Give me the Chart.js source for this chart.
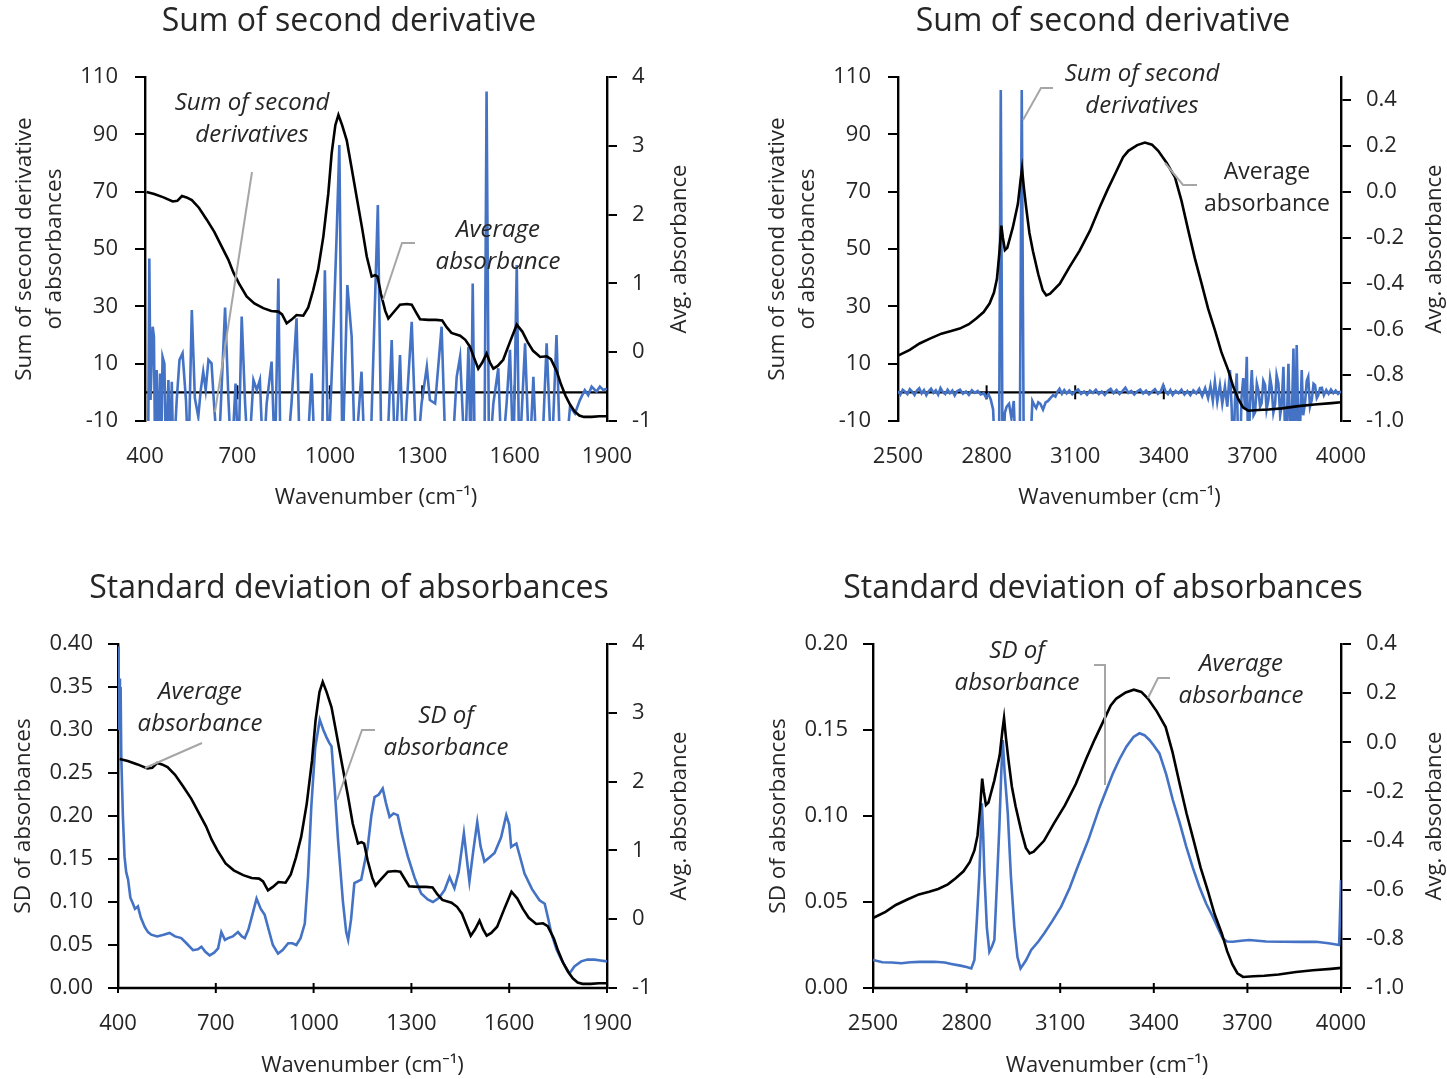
<!DOCTYPE html>
<html lang="en">
<head>
<meta charset="UTF-8" />
<title>Sum of second derivative / SD of absorbances</title>
<script src="https://cdn.jsdelivr.net/npm/chart.js"></script>
<style>
  body { margin: 0; background: #fff; }
  #wrap { position: relative; width: 1447px; height: 1079px; }
  canvas { position: absolute; }
</style>
</head>
<body>
<div id="wrap">
  <canvas id="c1" width="723" height="540" style="left:0;top:0"></canvas>
  <canvas id="c2" width="724" height="540" style="left:723px;top:0"></canvas>
  <canvas id="c3" width="723" height="539" style="left:0;top:540px"></canvas>
  <canvas id="c4" width="724" height="539" style="left:723px;top:540px"></canvas>
</div>
<script>
// ---- data: [wavenumber, value] pairs ----

const fingerprintTicks = [400, 700, 1000, 1300, 1600, 1900]
const stretchTicks = [2500, 2800, 3100, 3400, 3700, 4000]

// average absorbance, 400-1900 cm-1 (right axis)
const avgFingerprint = [
  [405, 2.33], [430, 2.30], [460, 2.25], [490, 2.19], [505, 2.20], [520, 2.27], [535, 2.25], [552, 2.21],
  [575, 2.10], [600, 1.93], [625, 1.75], [654, 1.49], [670, 1.35], [687, 1.16], [705, 1.00], [730, 0.81],
  [755, 0.71], [784, 0.64], [810, 0.60], [833, 0.59], [845, 0.55], [860, 0.42], [875, 0.47], [892, 0.54],
  [914, 0.53], [930, 0.65], [946, 0.90], [962, 1.20], [979, 1.68], [995, 2.30], [1006, 2.89], [1018, 3.30],
  [1028, 3.45], [1040, 3.30], [1055, 3.08], [1070, 2.70], [1087, 2.26], [1105, 1.80], [1120, 1.39],
  [1136, 1.10], [1147, 1.12], [1155, 1.10], [1166, 0.85], [1180, 0.60], [1190, 0.49], [1205, 0.57],
  [1228, 0.69], [1250, 0.70], [1266, 0.69], [1280, 0.58], [1293, 0.48], [1320, 0.47], [1345, 0.47],
  [1365, 0.46], [1380, 0.36], [1395, 0.28], [1423, 0.24], [1440, 0.18], [1455, 0.08], [1470, -0.10],
  [1482, -0.24], [1495, -0.15], [1509, -0.02], [1520, -0.15], [1531, -0.24], [1545, -0.20], [1563, -0.11],
  [1585, 0.15], [1607, 0.40], [1625, 0.30], [1642, 0.15], [1660, 0.02], [1683, -0.07], [1704, -0.06],
  [1718, -0.10], [1737, -0.28], [1750, -0.46], [1765, -0.63], [1780, -0.76], [1795, -0.86], [1810, -0.92],
  [1825, -0.94], [1850, -0.94], [1875, -0.93], [1900, -0.93]
]

// average absorbance, 2500-4000 cm-1 (right axis)
const avgStretch = [
  [2500, -0.715], [2540, -0.690], [2573, -0.662], [2610, -0.640], [2647, -0.619], [2680, -0.608],
  [2709, -0.597], [2740, -0.578], [2765, -0.553], [2790, -0.525], [2810, -0.488], [2825, -0.44],
  [2835, -0.38], [2843, -0.27], [2850, -0.148], [2855, -0.20], [2862, -0.255], [2870, -0.245],
  [2889, -0.155], [2906, -0.053], [2915, 0.05], [2920, 0.099], [2926, 0.02], [2934, -0.07], [2945, -0.18],
  [2957, -0.26], [2975, -0.36], [2990, -0.43], [3002, -0.452], [3015, -0.445], [3048, -0.401],
  [3080, -0.33], [3115, -0.257], [3150, -0.17], [3183, -0.068], [3210, 0.01], [3235, 0.077], [3262, 0.15],
  [3280, 0.178], [3310, 0.203], [3336, 0.214], [3360, 0.205], [3381, 0.178], [3410, 0.125], [3438, 0.062],
  [3460, -0.04], [3483, -0.170], [3505, -0.29], [3528, -0.401], [3550, -0.51], [3573, -0.604],
  [3595, -0.70], [3618, -0.778], [3635, -0.85], [3652, -0.904], [3668, -0.94], [3686, -0.955],
  [3720, -0.952], [3754, -0.950], [3800, -0.945], [3856, -0.935], [3910, -0.928], [3968, -0.922],
  [4000, -0.918]
]

// sum of second derivatives, 400-1900 cm-1 (left axis, dips run below the frame)
const sumFingerprint = [
  [410, -25], [414, 46.7], [418, -2.7], [425, 22.9], [429, 19.4], [433, -25], [438, 7.8], [443, -25],
  [449, 6.6], [452, -25], [457, 12.4], [463, 10], [468, -25], [476, 4.3], [481, -25], [487, 3.7],
  [492, -25], [503, -2.7], [512, 11.3], [522, 13.6], [533, -2.7], [541, -25], [552, 28.7], [562, -2.1],
  [573, -8.5], [581, 0.8], [589, 7.2], [597, 0.8], [606, 11.3], [616, 10.1], [624, -3.9], [638, -25],
  [660, 29.6], [671, -2.7], [681, -25], [694, 3.1], [703, -25], [714, 26.4], [725, -3.9], [736, -25],
  [752, 4.3], [763, 0.8], [773, 4.3], [784, -25], [795, -3.9], [811, 10.7], [822, -25], [833, 39.7],
  [840, -25], [860, -25], [876, -3.3], [892, 25.8], [903, -25], [925, -25], [941, 6.6], [952, -25],
  [974, -25], [984, 42.6], [995, -25], [1011, 19.4], [1022, 54.3], [1031, 86.3], [1041, -25],
  [1057, 37.4], [1071, 19.4], [1082, -25], [1103, 7.2], [1114, -25], [1131, -25], [1156, 65.3],
  [1168, -25], [1185, -25], [1201, 18.2], [1212, -25], [1228, 13], [1239, -25], [1250, -3.9],
  [1266, 24.6], [1282, -25], [1298, -3.9], [1315, 8.9], [1325, -2.7], [1342, -3.9], [1363, 22.9],
  [1377, -25], [1396, -25], [1412, 5.4], [1423, 12.4], [1439, -25], [1450, 15.9], [1458, -25],
  [1464, 38], [1471, -25], [1502, -25], [1509, 104.9], [1517, -25], [1531, -3.9], [1547, 8.4],
  [1558, -25], [1574, -3.9], [1585, 14.8], [1596, -25], [1607, 44.4], [1615, -25], [1634, 17.1],
  [1648, -25], [1661, 5.4], [1672, -25], [1688, -25], [1704, 17.1], [1720, -25], [1736, 20],
  [1749, -25], [1764, -25], [1780, -5], [1796, -7.4], [1812, -2.7], [1828, 0.8], [1839, -1], [1850, 2],
  [1866, 0.2], [1877, 2], [1888, 0.8], [1899, 1.3]
]

// sum of second derivatives, 2500-4000 cm-1 (left axis)
const sumStretch = [
  [2500, 0.5], [2508, -0.8], [2516, 0.9], [2524, 0.2], [2532, -0.6], [2540, 1.1], [2548, 0.3], [2556, -0.9],
  [2564, 0.6], [2572, 1.4], [2580, -0.4], [2588, 0.8], [2596, -1.0], [2604, 0.4], [2612, 1.3], [2620, -0.2],
  [2628, 0.7], [2636, -0.8], [2644, 1.5], [2652, 0.1], [2660, -0.6], [2668, 0.9], [2676, -0.3], [2684, 0.6],
  [2692, -1.1], [2700, 0.4], [2710, 0.9], [2720, -0.5], [2730, 0.3], [2740, -0.9], [2750, 0.7], [2760, -0.2],
  [2770, 0.5], [2780, -0.7], [2790, -0.3], [2798, -1.8], [2806, -0.6], [2814, -2.5], [2822, -6], [2830, -25],
  [2842, -25], [2848, 105.5], [2854, -25], [2862, -7], [2868, -5], [2876, -4], [2884, -9], [2892, -3],
  [2899, -25], [2912, -25], [2919, 105.5], [2926, -25], [2946, -25], [2955, -3], [2962, -4.5], [2968, -5.5],
  [2975, -3.5], [2982, -4], [2991, -6], [3000, -3.5], [3008, -3], [3016, -2], [3025, -1], [3033, -1.5],
  [3040, 0.2], [3047, 1.2], [3055, -0.5], [3063, 0.8], [3071, -0.4], [3080, 0.6], [3090, -0.7], [3100, 0.4],
  [3110, 1.0], [3120, -0.5], [3130, 0.3], [3140, -0.8], [3150, 0.6], [3160, -0.2], [3170, 0.9], [3180, -0.6],
  [3190, 0.3], [3200, -0.9], [3210, 0.5], [3220, 1.2], [3230, -0.3], [3240, 0.8], [3250, -0.6], [3260, 0.4],
  [3270, 1.6], [3280, -0.2], [3290, 0.5], [3300, -0.8], [3310, 0.3], [3320, 1.0], [3330, -0.4], [3340, 0.6],
  [3350, -0.7], [3360, 0.2], [3370, 1.1], [3380, -0.5], [3390, 0.4], [3398, 2.5], [3406, 0.3], [3414, -0.6],
  [3422, 0.8], [3430, -0.9], [3440, 0.5], [3450, -0.3], [3460, 0.9], [3470, -0.8], [3480, 0.4], [3490, -1.0],
  [3500, 0.7], [3510, -0.4], [3520, 1.2], [3530, -1.3], [3540, 1.5], [3550, -2.0], [3558, 2.2], [3566, -3.0],
  [3573, 3.7], [3581, -3.3], [3590, 2.5], [3598, -4], [3607, 2], [3615, -5], [3624, 7.8], [3630, -6],
  [3635, -25], [3641, -3], [3647, 6.6], [3653, -25], [3658, -25], [3663, -2], [3669, 5], [3675, -6],
  [3681, 12.4], [3686, -25], [3692, -4], [3698, 7.8], [3704, -8], [3709, -7], [3715, 3], [3720, 0.8],
  [3726, -5], [3731, -3.9], [3737, 4], [3743, 2.5], [3748, -6], [3754, -2.7], [3760, 5], [3765, 1.9],
  [3771, -7], [3777, -3.9], [3782, 6], [3788, 3.1], [3794, -8], [3799, -4.5], [3805, 8.9], [3813, -25],
  [3822, 10], [3830, -25], [3839, 15.3], [3844, -25], [3850, 16.5], [3858, -25], [3867, 7.8], [3872, -8],
  [3878, -3.9], [3884, 4], [3889, 5.4], [3895, -5], [3901, -2.7], [3907, 3], [3912, 2.5], [3918, -2],
  [3923, -1], [3929, 1.5], [3935, 1.6], [3942, -1], [3950, 0.8], [3958, -0.5], [3966, 1.0], [3974, -0.3],
  [3982, 0.6], [3990, -0.5], [4000, 0.4]
]

// standard deviation of absorbances, 400-1900 cm-1 (left axis)
const sdFingerprint = [
  [400, 0.397], [402, 0.30], [404, 0.36], [406, 0.31], [408, 0.35], [410, 0.27], [415, 0.20], [420, 0.153],
  [425, 0.135], [431, 0.126], [438, 0.105], [446, 0.098], [452, 0.092], [461, 0.095], [470, 0.082],
  [482, 0.071], [492, 0.065], [502, 0.062], [520, 0.060], [540, 0.062], [558, 0.064], [575, 0.060],
  [594, 0.058], [610, 0.052], [630, 0.044], [645, 0.045], [656, 0.048], [668, 0.042], [681, 0.038],
  [695, 0.041], [707, 0.046], [717, 0.065], [728, 0.056], [738, 0.058], [752, 0.060], [768, 0.065],
  [780, 0.060], [789, 0.058], [800, 0.068], [812, 0.085], [825, 0.104], [838, 0.092], [850, 0.085],
  [862, 0.068], [875, 0.050], [891, 0.040], [905, 0.044], [922, 0.052], [935, 0.052], [947, 0.050],
  [960, 0.058], [973, 0.075], [983, 0.130], [993, 0.211], [1005, 0.280], [1019, 0.312], [1030, 0.300],
  [1039, 0.292], [1048, 0.285], [1055, 0.281], [1065, 0.230], [1075, 0.172], [1090, 0.100], [1100, 0.065],
  [1106, 0.056], [1115, 0.080], [1125, 0.122], [1146, 0.126], [1166, 0.164], [1177, 0.200], [1187, 0.222],
  [1200, 0.225], [1212, 0.232], [1222, 0.215], [1233, 0.199], [1245, 0.203], [1258, 0.201], [1270, 0.180],
  [1289, 0.153], [1310, 0.128], [1330, 0.110], [1350, 0.103], [1366, 0.100], [1385, 0.105], [1402, 0.114],
  [1417, 0.129], [1432, 0.116], [1445, 0.135], [1461, 0.180], [1470, 0.150], [1478, 0.124], [1490, 0.160],
  [1502, 0.193], [1512, 0.165], [1524, 0.147], [1540, 0.152], [1555, 0.157], [1575, 0.175], [1591, 0.201],
  [1600, 0.190], [1606, 0.164], [1622, 0.168], [1635, 0.150], [1647, 0.133], [1670, 0.115], [1693, 0.102],
  [1709, 0.098], [1720, 0.080], [1729, 0.064], [1745, 0.045], [1760, 0.033], [1772, 0.025], [1785, 0.017],
  [1800, 0.025], [1821, 0.031], [1840, 0.033], [1862, 0.033], [1880, 0.032], [1900, 0.031]
]

// standard deviation of absorbances, 2500-4000 cm-1 (left axis)
const sdStretch = [
  [2500, 0.0163], [2530, 0.0150], [2560, 0.0148], [2591, 0.0144], [2620, 0.0150], [2650, 0.0152],
  [2697, 0.0153], [2730, 0.0148], [2751, 0.0140], [2780, 0.0130], [2800, 0.0122], [2815, 0.0114],
  [2825, 0.0163], [2833, 0.040], [2841, 0.0667], [2849, 0.1074], [2853, 0.090], [2857, 0.0667],
  [2865, 0.035], [2873, 0.0211], [2881, 0.024], [2889, 0.0279], [2897, 0.060], [2905, 0.0938],
  [2911, 0.125], [2916, 0.1442], [2922, 0.125], [2932, 0.1016], [2942, 0.065], [2953, 0.0356],
  [2963, 0.018], [2973, 0.0114], [2990, 0.016], [3007, 0.0221], [3030, 0.027], [3049, 0.0318],
  [3075, 0.039], [3103, 0.0473], [3130, 0.058], [3156, 0.0705], [3190, 0.086], [3226, 0.105],
  [3252, 0.117], [3269, 0.1248], [3290, 0.133], [3312, 0.1403], [3335, 0.146], [3354, 0.1481],
  [3370, 0.147], [3386, 0.1442], [3400, 0.141], [3418, 0.1364], [3440, 0.124], [3461, 0.1093],
  [3483, 0.096], [3504, 0.0822], [3525, 0.070], [3546, 0.0589], [3568, 0.049], [3589, 0.0415],
  [3605, 0.035], [3621, 0.0289], [3635, 0.027], [3653, 0.0269], [3680, 0.0275], [3706, 0.0279],
  [3760, 0.027], [3813, 0.0269], [3870, 0.0268], [3920, 0.0269], [3960, 0.026], [3994, 0.025], [4000, 0.0628]
]

// ---- drawing ----
const FONT = "'Open Sans', 'Noto Sans', sans-serif"
const INK = "#262626"
const BLUE = "#4472c4"
const LEADER = "#a6a6a6"
const LINE_W = 2.6

function series(pairs) {
  return pairs.map(p => ({ x: p[0], y: p[1] }))
}

// right axis title (bottom-to-top like Excel) and the callout labels
const overlayText = {
  id: "overlayText",
  afterDatasetsDraw(chart, args, opts) {
    const ctx = chart.ctx
    ctx.save()
    ctx.fillStyle = INK
    ctx.textAlign = "center"
    ctx.textBaseline = "middle"
    for (const n of opts.notes) {
      ctx.strokeStyle = LEADER
      ctx.lineWidth = 2
      ctx.beginPath()
      n.leader.forEach((p, i) => (i ? ctx.lineTo(p[0], p[1]) : ctx.moveTo(p[0], p[1])))
      ctx.stroke()
      ctx.font = n.italic ? "italic 24px " + FONT : "23px " + FONT
      n.lines.forEach((t, i) => ctx.fillText(t, n.x, n.y + i * 32))
    }
    const r = opts.rightTitle
    ctx.translate(r.x, r.y)
    ctx.rotate(-Math.PI / 2)
    ctx.font = "22px " + FONT
    ctx.fillText(r.text, 0, 0)
    ctx.restore()
  },
}

function makePanel(p) {
  const tickFont = { family: FONT, size: 22 }
  const axisTitleFont = { family: FONT, size: 22.5, lineHeight: "30px" }
  return new Chart(document.getElementById(p.id), {
    type: "line",
    data: {
      datasets: [
        { data: series(p.avg), yAxisID: "yR", borderColor: "#000", borderWidth: LINE_W, order: 0 },
        { data: series(p.blue), yAxisID: "yL", borderColor: BLUE, borderWidth: LINE_W, order: 1 },
        {
          data: [{ x: p.xTicks[0], y: 0 }, { x: p.xTicks[p.xTicks.length - 1], y: 0 }],
          yAxisID: "yL", borderColor: "#000", borderWidth: 2.4, clip: false, order: 2,
        },
        {
          data: p.xTicks.map(v => ({ x: v, y: 0 })),
          yAxisID: "yL", showLine: false, pointStyle: "line", pointRotation: 90,
          pointRadius: p.tickMark, pointBorderWidth: 2, pointBorderColor: "#000", clip: false, order: 3,
        },
      ],
    },
    options: {
      responsive: false,
      animation: false,
      devicePixelRatio: 1,
      layout: { padding: { left: p.padLeft, right: p.padRight, top: 0, bottom: 0 } },
      elements: { point: { radius: 0 }, line: { tension: 0 } },
      plugins: {
        legend: { display: false },
        tooltip: { enabled: false },
        title: {
          display: true,
          text: p.title,
          color: INK,
          font: { family: FONT, size: 32, weight: "normal", lineHeight: "38px" },
          padding: { top: p.titleTop, bottom: p.titleBottom },
        },
        overlayText: { notes: p.notes, rightTitle: p.rightTitle },
      },
      scales: {
        x: {
          type: "linear",
          min: p.xTicks[0],
          max: p.xTicks[p.xTicks.length - 1],
          afterFit: s => { s.height = p.xHeight },
          border: { display: false },
          grid: { display: false },
          ticks: { stepSize: 300, padding: 15, color: INK, font: tickFont, callback: v => String(v) },
          title: {
            display: true, text: "Wavenumber (cm⁻¹)", color: INK,
            font: { family: FONT, size: 22, lineHeight: "26px" },
            padding: { top: 0, bottom: p.xTitleBottom },
          },
        },
        yL: {
          position: "left",
          min: p.leftRange[0],
          max: p.leftRange[1],
          afterFit: s => { s.width = p.leftWidth },
          border: { display: true, color: "#000", width: 2.4 },
          grid: { drawOnChartArea: false, color: "#000", lineWidth: 2, tickLength: 10 },
          ticks: { stepSize: p.leftRange[2], padding: p.leftPad, color: INK, font: tickFont,
                   callback: v => v.toFixed(p.leftRange[3]) },
          title: { display: true, text: p.leftTitle, color: INK, font: axisTitleFont,
                   padding: { top: p.leftTitlePad, bottom: 0 } },
        },
        yR: {
          position: "right",
          min: p.rightRange[0],
          max: p.rightRange[1],
          afterFit: s => { s.width = p.rightWidth },
          border: { display: true, color: "#000", width: 2.4 },
          grid: { drawOnChartArea: false, color: "#000", lineWidth: 2, tickLength: 10 },
          ticks: { stepSize: p.rightRange[2], padding: 15, color: INK, font: tickFont, includeBounds: false,
                   callback: v => (Math.abs(v) < 1e-9 ? 0 : v).toFixed(p.rightRange[3]) },
          title: { display: false },
        },
      },
    },
    plugins: [overlayText],
  })
}

makePanel({
  id: "c1", title: "Sum of second derivative",
  avg: avgFingerprint, blue: sumFingerprint, xTicks: fingerprintTicks, tickMark: 7,
  padLeft: 0, padRight: 25, leftWidth: 145, rightWidth: 91, xHeight: 119,
  titleTop: 3, titleBottom: 36, xTitleBottom: 29,
  leftRange: [-10, 110, 20, 0], rightRange: [-1, 4, 1, 0], leftPad: 17,
  leftTitle: ["Sum of second derivative", "of absorbances"], leftTitlePad: 10,
  rightTitle: { text: "Avg. absorbance", x: 680, y: 249 },
  notes: [
    { lines: ["Sum of second", "derivatives"], x: 252, y: 103, italic: true, leader: [[252, 172], [215, 412]] },
    { lines: ["Average", "absorbance"], x: 498, y: 230, italic: true, leader: [[415, 243], [402, 243], [383, 300]] },
  ],
})

makePanel({
  id: "c2", title: "Sum of second derivative",
  avg: avgStretch, blue: sumStretch, xTicks: stretchTicks, tickMark: 7,
  padLeft: 36, padRight: 0, leftWidth: 139, rightWidth: 106, xHeight: 119,
  titleTop: 3, titleBottom: 36, xTitleBottom: 29,
  leftRange: [-10, 110, 20, 0], rightRange: [-1, 0.5, 0.2, 1], leftPad: 17,
  leftTitle: ["Sum of second derivative", "of absorbances"], leftTitlePad: 4,
  rightTitle: { text: "Avg. absorbance", x: 712, y: 249 },
  notes: [
    { lines: ["Sum of second", "derivatives"], x: 419, y: 74, italic: true, leader: [[330, 88], [318, 88], [300, 120]] },
    { lines: ["Average", "absorbance"], x: 544, y: 172, italic: false, leader: [[474, 185], [460, 185], [442, 163]] },
  ],
})

makePanel({
  id: "c3", title: "Standard deviation of absorbances",
  avg: avgFingerprint, blue: sdFingerprint, xTicks: fingerprintTicks, tickMark: 5,
  padLeft: 0, padRight: 25, leftWidth: 118, rightWidth: 91, xHeight: 91,
  titleTop: 30, titleBottom: 36, xTitleBottom: 0,
  leftRange: [0, 0.4, 0.05, 2], rightRange: [-1, 4, 1, 0], leftPad: 15,
  leftTitle: "SD of absorbances", leftTitlePad: 9,
  rightTitle: { text: "Avg. absorbance", x: 680, y: 276 },
  notes: [
    { lines: ["Average", "absorbance"], x: 200, y: 152, italic: true, leader: [[202, 203], [145, 228]] },
    { lines: ["SD of", "absorbance"], x: 446, y: 176, italic: true, leader: [[375, 190], [362, 190], [337, 260]] },
  ],
})

makePanel({
  id: "c4", title: "Standard deviation of absorbances",
  avg: avgStretch, blue: sdStretch, xTicks: stretchTicks, tickMark: 5,
  padLeft: 36, padRight: 0, leftWidth: 114, rightWidth: 106, xHeight: 91,
  titleTop: 30, titleBottom: 36, xTitleBottom: 0,
  leftRange: [0, 0.2, 0.05, 2], rightRange: [-1, 0.4, 0.2, 1], leftPad: 15,
  leftTitle: "SD of absorbances", leftTitlePad: 5,
  rightTitle: { text: "Avg. absorbance", x: 712, y: 276 },
  notes: [
    { lines: ["SD of", "absorbance"], x: 294, y: 111, italic: true, leader: [[371, 125], [382, 125], [382, 245]] },
    { lines: ["Average", "absorbance"], x: 518, y: 124, italic: true, leader: [[447, 138], [435, 138], [425, 158]] },
  ],
})
</script>
</body>
</html>
